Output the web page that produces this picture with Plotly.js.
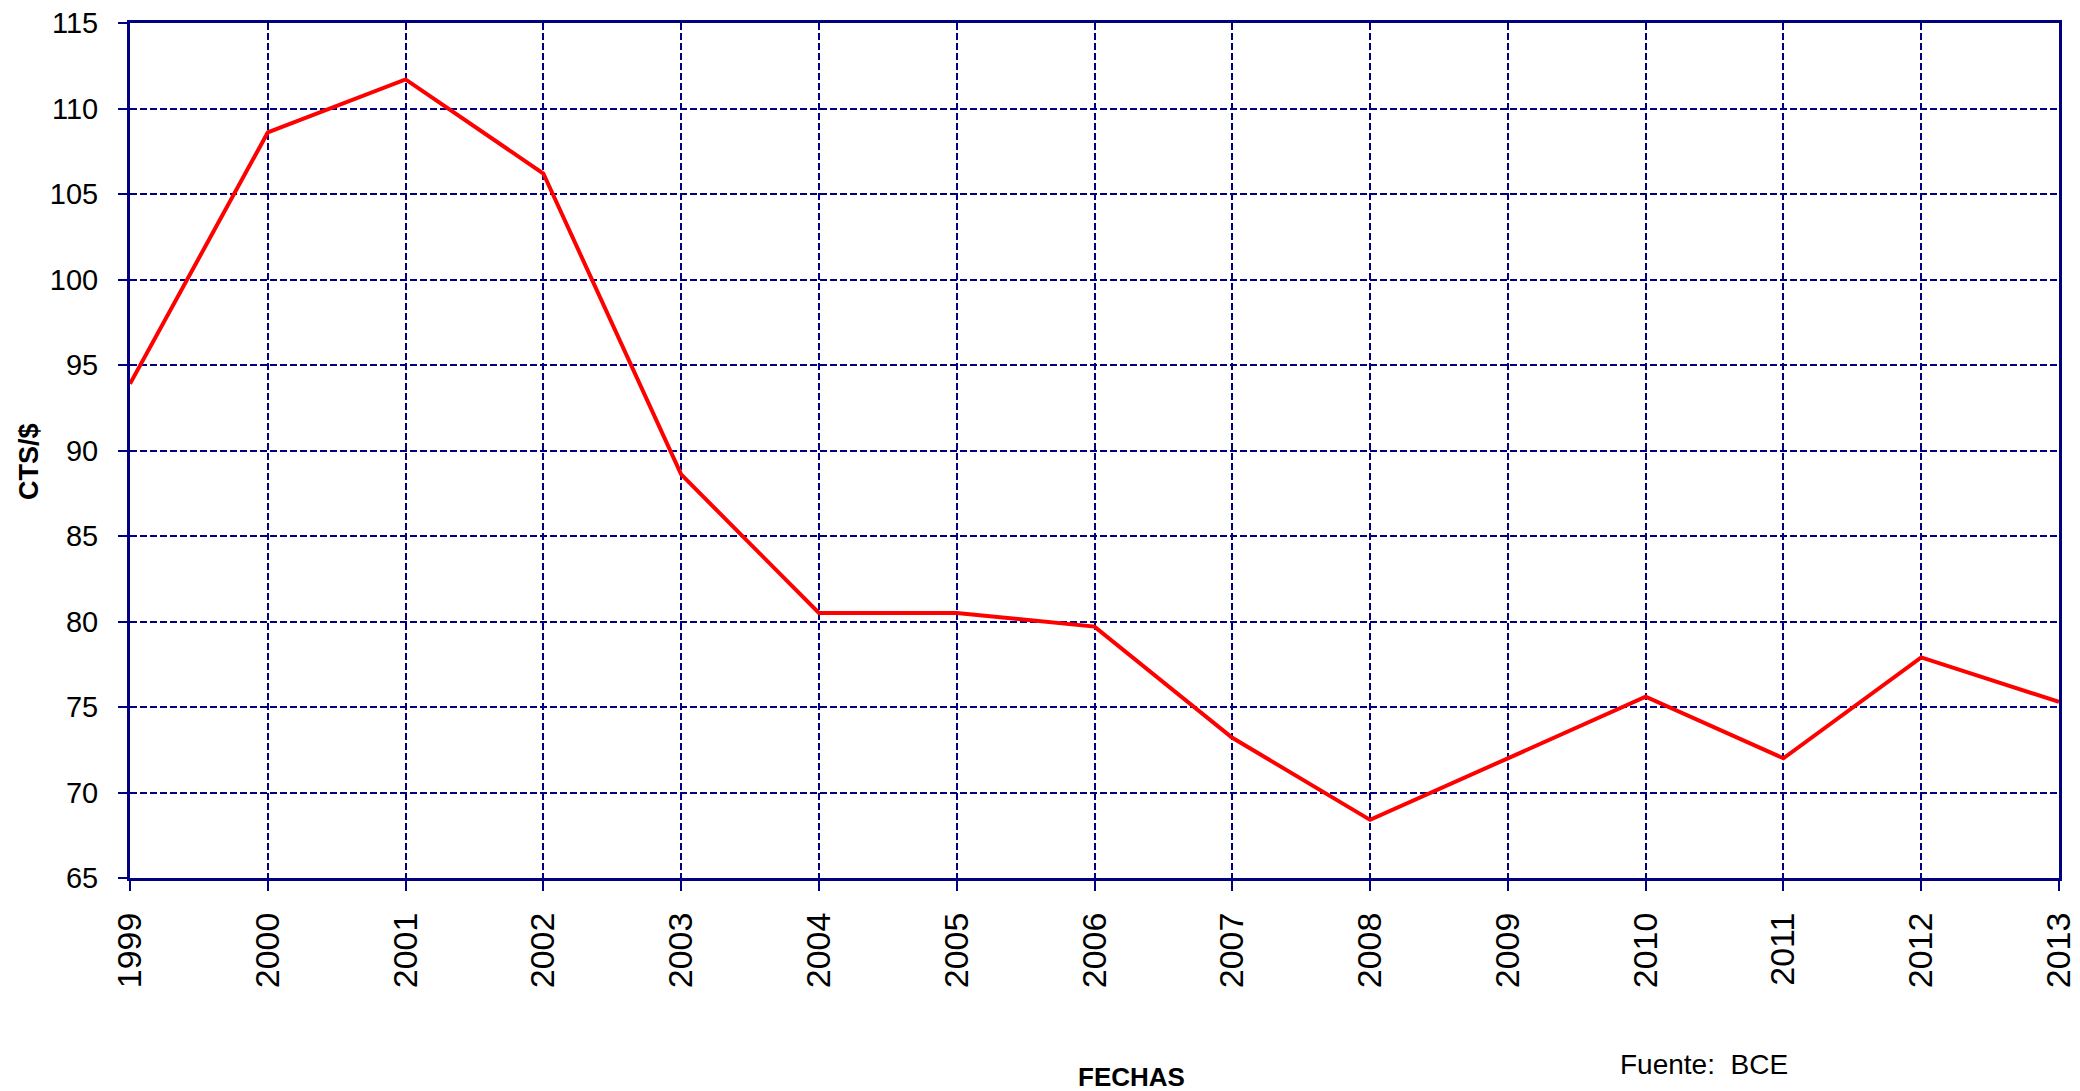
<!DOCTYPE html>
<html>
<head>
<meta charset="utf-8">
<script src="https://cdn.plot.ly/plotly-3.0.1.min.js"></script>
<style>
  html, body { margin: 0; padding: 0; background: #ffffff; }
  #chart { width: 2080px; height: 1091px; }
</style>
</head>
<body>
<div id="chart"></div>
<script>
const years = [1999, 2000, 2001, 2002, 2003, 2004, 2005, 2006, 2007, 2008, 2009, 2010, 2011, 2012, 2013];
const values = [93.9, 108.6, 111.7, 106.2, 88.6, 80.5, 80.5, 79.7, 73.2, 68.4, 72.0, 75.6, 72.0, 77.9, 75.3];
const yTicks = [65, 70, 75, 80, 85, 90, 95, 100, 105, 110, 115];
const xTickLabels = years.map(String);
const yTitle = "CTS/$";
const xTitle = "FECHAS";
const sourceNote = "Fuente:  BCE";

const navy = "#000080";
const font = "Liberation Sans, Arial, sans-serif";

const trace = {
  x: years,
  y: values,
  type: "scatter",
  mode: "lines",
  line: { color: "#FF0000", width: 4 },
  hoverinfo: "x+y"
};

const layout = {
  width: 2080,
  height: 1091,
  paper_bgcolor: "#ffffff",
  plot_bgcolor: "#ffffff",
  showlegend: false,
  margin: { l: 130, r: 21, t: 23, b: 213 },
  font: { family: font, color: "#000000" },
  xaxis: {
    range: [1999, 2013],
    tickmode: "array",
    tickvals: years,
    ticktext: xTickLabels,
    tickangle: -90,
    tickfont: { family: font, size: 34, color: "#000000" },
    ticks: "outside",
    ticklen: 10,
    tickwidth: 2,
    tickcolor: navy,
    ticklabelstandoff: 8,
    showline: true,
    linecolor: navy,
    linewidth: 3,
    mirror: true,
    showgrid: true,
    gridcolor: navy,
    gridwidth: 2,
    griddash: "7px,3px",
    zeroline: false
  },
  yaxis: {
    range: [65, 115],
    tickmode: "array",
    tickvals: yTicks,
    ticktext: yTicks.map(String),
    tickfont: { family: font, size: 29, color: "#000000" },
    ticks: "outside",
    ticklen: 9,
    tickwidth: 2,
    tickcolor: navy,
    ticklabelstandoff: 14,
    showline: true,
    linecolor: navy,
    linewidth: 3,
    mirror: true,
    showgrid: true,
    gridcolor: navy,
    gridwidth: 2,
    griddash: "7px,3px",
    zeroline: false
  },
  annotations: [
    {
      text: "<b>" + yTitle + "</b>",
      xref: "paper", yref: "paper",
      x: -0.0527, y: 0.487,
      xanchor: "center", yanchor: "middle",
      textangle: -90,
      showarrow: false,
      font: { family: font, size: 27, color: "#000000" }
    },
    {
      text: "<b>" + xTitle + "</b>",
      xref: "paper", yref: "paper",
      x: 0.519, y: -0.233,
      xanchor: "center", yanchor: "middle",
      showarrow: false,
      font: { family: font, size: 26, color: "#000000" }
    },
    {
      text: sourceNote,
      xref: "paper", yref: "paper",
      x: 0.816, y: -0.218,
      xanchor: "center", yanchor: "middle",
      showarrow: false,
      font: { family: font, size: 28, color: "#000000" }
    }
  ]
};

Plotly.newPlot("chart", [trace], layout, { displayModeBar: false, staticPlot: true });
</script>
</body>
</html>
